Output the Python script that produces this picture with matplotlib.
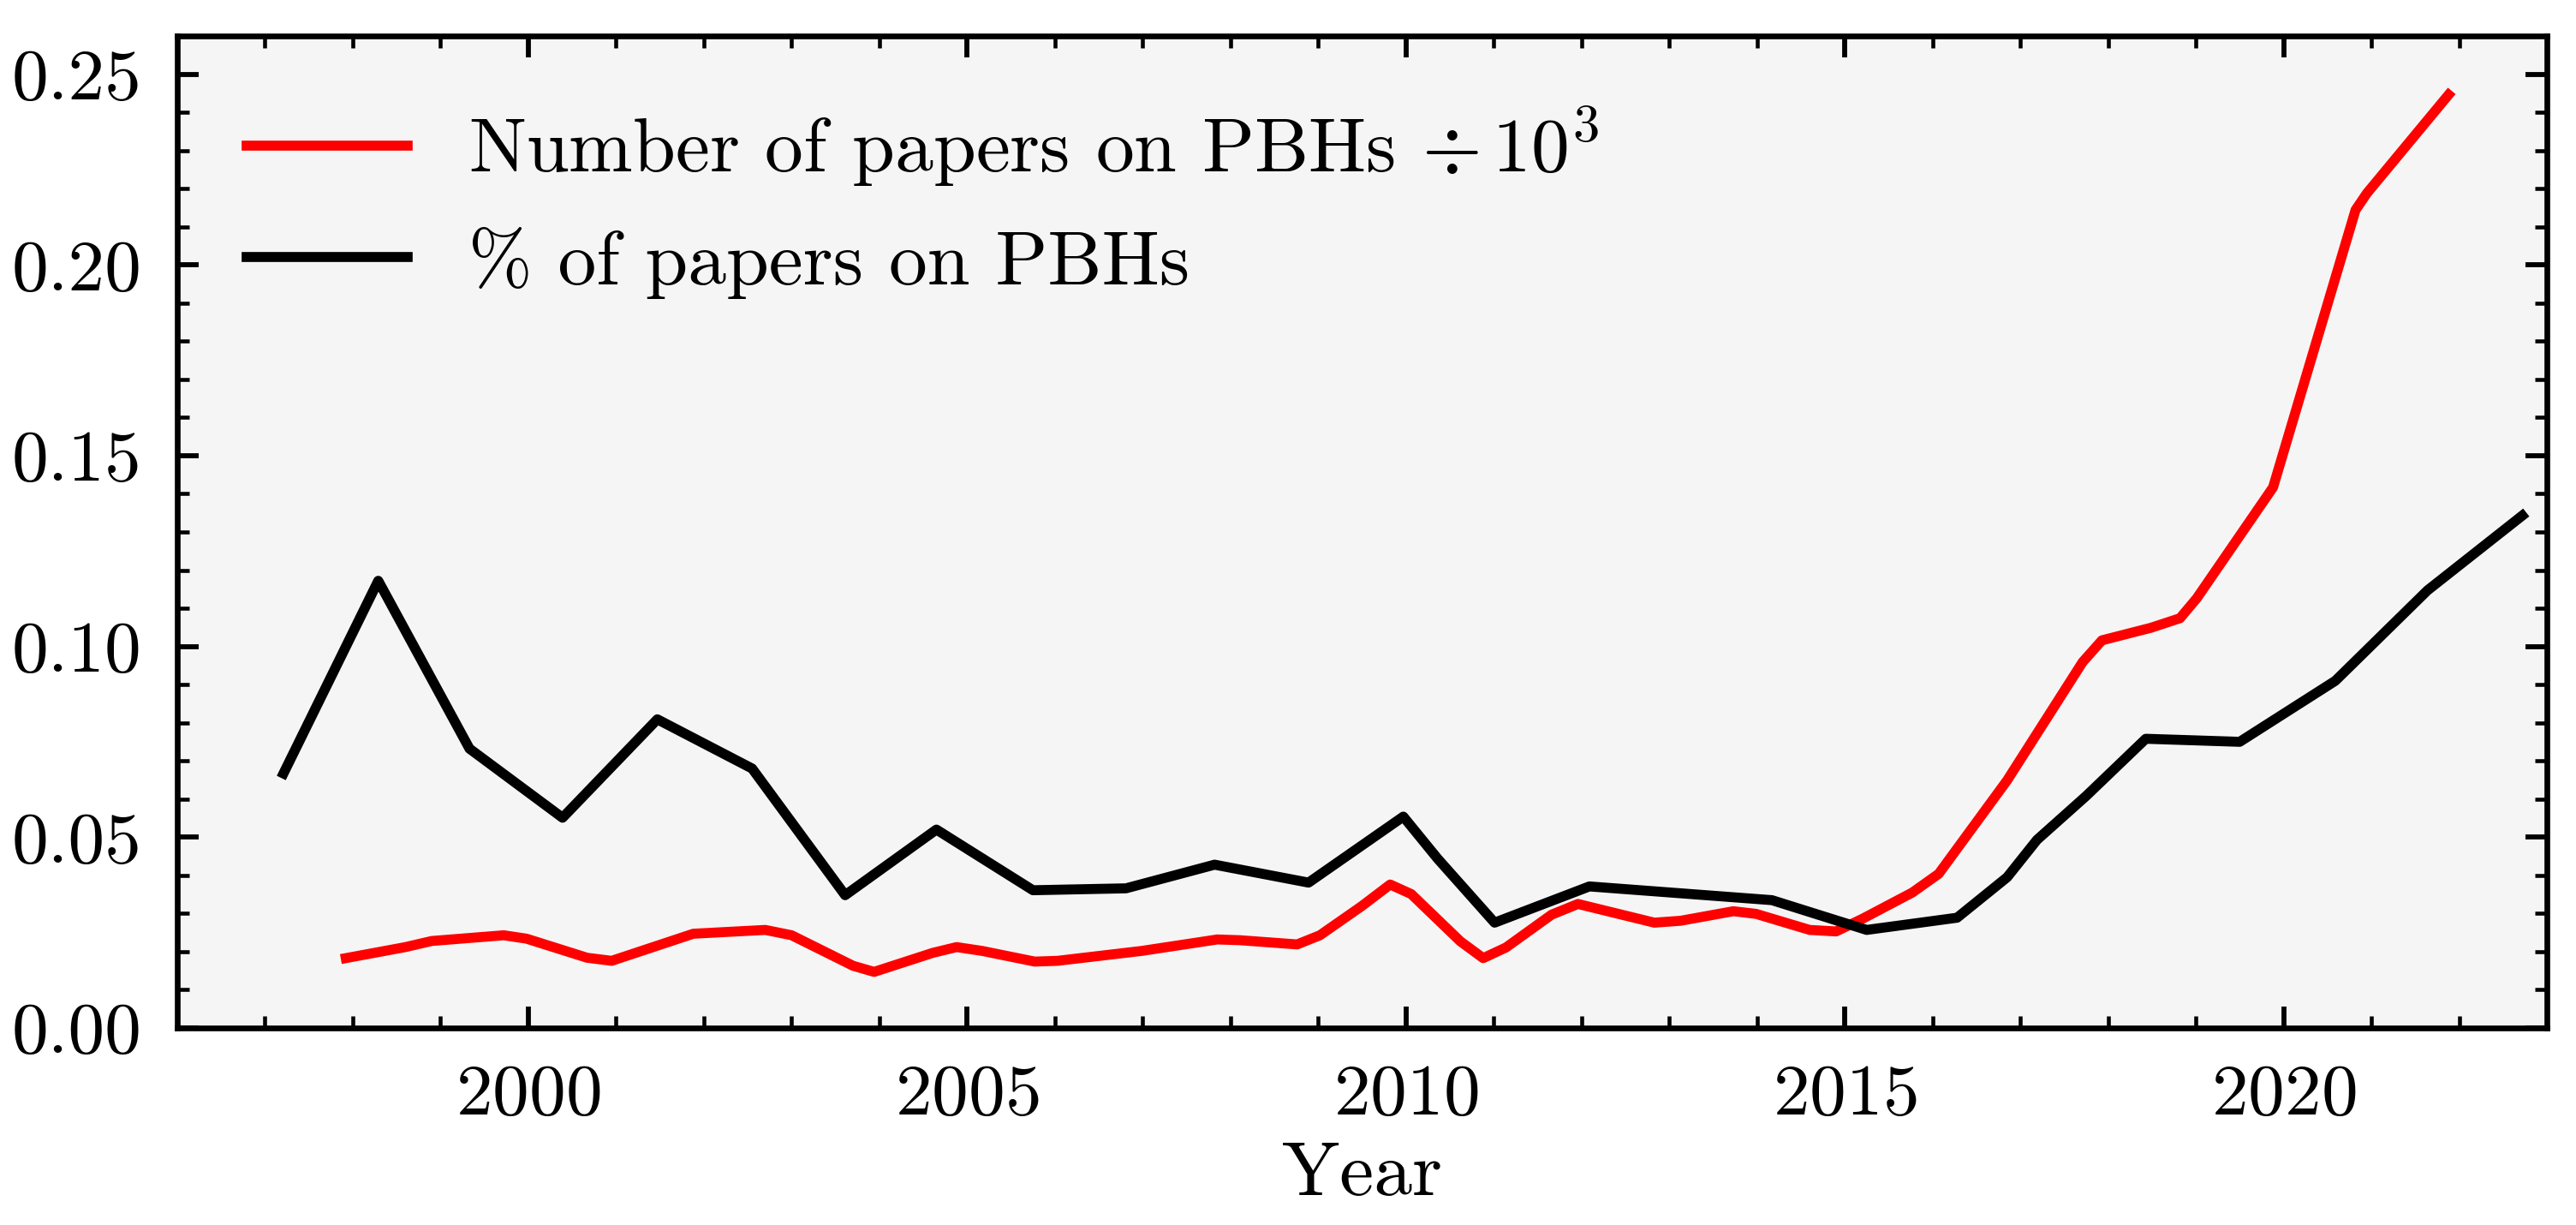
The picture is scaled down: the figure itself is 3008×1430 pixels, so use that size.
import matplotlib
matplotlib.use("Agg")
import matplotlib.pyplot as plt
import matplotlib.ticker as mticker

# Data
years_pct = [1997.21, 1998.29, 1999.33, 2000.39, 2001.47, 2002.55, 2003.61, 2004.65,
             2005.75, 2006.81, 2007.82, 2008.89, 2009.97, 2010.36, 2011.01, 2012.09,
             2014.17, 2015.25, 2016.28, 2016.85, 2017.19, 2017.75, 2018.43, 2019.50,
             2020.59, 2021.64, 2022.72]
pct_papers = [0.0667, 0.1172, 0.0732, 0.0551, 0.0809, 0.0680, 0.0348, 0.0520,
              0.0361, 0.0366, 0.0428, 0.0381, 0.0554, 0.0444, 0.0276, 0.0371,
              0.0335, 0.0257, 0.0289, 0.0395, 0.0493, 0.0608, 0.0758, 0.0750,
              0.0910, 0.1147, 0.1343]

years_num = [1997.92, 1998.60, 1998.90, 1999.72, 1999.98, 2000.67, 2000.95, 2001.88,
             2002.70, 2003.00, 2003.70, 2003.94, 2004.61, 2004.88, 2005.17, 2005.77,
             2006.03, 2006.99, 2007.85, 2008.11, 2008.76, 2009.02, 2009.50, 2009.82,
             2010.06, 2010.62, 2010.88, 2011.14, 2011.66, 2011.96, 2012.83, 2013.13,
             2013.73, 2013.99, 2014.60, 2014.90, 2015.20, 2015.77, 2016.07, 2016.85,
             2017.71, 2017.93, 2018.49, 2018.82, 2019.01, 2019.88, 2020.82, 2020.95,
             2021.88]
num_papers = [0.0183, 0.0212, 0.0228, 0.0243, 0.0234, 0.0184, 0.0176, 0.0247,
              0.0257, 0.0243, 0.0163, 0.0147, 0.0197, 0.0212, 0.0202, 0.0174,
              0.0176, 0.0202, 0.0232, 0.0230, 0.0219, 0.0243, 0.0320, 0.0376,
              0.0351, 0.0227, 0.0183, 0.0211, 0.0297, 0.0325, 0.0276, 0.0281,
              0.0306, 0.0299, 0.0257, 0.0253, 0.0286, 0.0355, 0.0404, 0.0649,
              0.0959, 0.1016, 0.1049, 0.1074, 0.1126, 0.1417, 0.2144, 0.2188,
              0.2446]

plt.rcParams['font.family'] = 'serif'
plt.rcParams['font.serif'] = ['cmr10']
plt.rcParams['mathtext.fontset'] = 'cm'
plt.rcParams['axes.formatter.use_mathtext'] = True
plt.rcParams['font.size'] = 21.5

fig = plt.figure(figsize=(3008 / 300, 1430 / 300), dpi=300)
ax = fig.add_subplot(1, 1, 1)
fig.subplots_adjust(left=207 / 3008, right=2974 / 3008, top=1 - 42 / 1430, bottom=1 - 1200 / 1430)
ax.set_facecolor('#f5f5f5')

ax.plot(years_num, num_papers, color='#ff0000', lw=2.8,
        label=r'Number of papers on PBHs $\div\, 10^3$')
ax.plot(years_pct, pct_papers, color='black', lw=2.8, label=r'% of papers on PBHs')

ax.set_xlim(1996, 2023)
ax.set_ylim(0, 0.26)
ax.xaxis.set_major_locator(mticker.MultipleLocator(5))
ax.xaxis.set_minor_locator(mticker.MultipleLocator(1))
ax.yaxis.set_major_locator(mticker.MultipleLocator(0.05))
ax.yaxis.set_minor_locator(mticker.MultipleLocator(0.01))
ax.yaxis.set_major_formatter(mticker.FormatStrFormatter('%.2f'))

for s in ax.spines.values():
    s.set_linewidth(1.6)
ax.tick_params(which='both', direction='in', top=True, right=True, labelsize=20.5)
ax.tick_params(which='major', length=6, width=1.4, pad=10)
ax.tick_params(which='minor', length=3.3, width=1.1)

ax.set_xlabel('Year')
ax.legend(loc='upper left', frameon=False, handlelength=2.1)

fig.savefig('out.png', dpi=300)
